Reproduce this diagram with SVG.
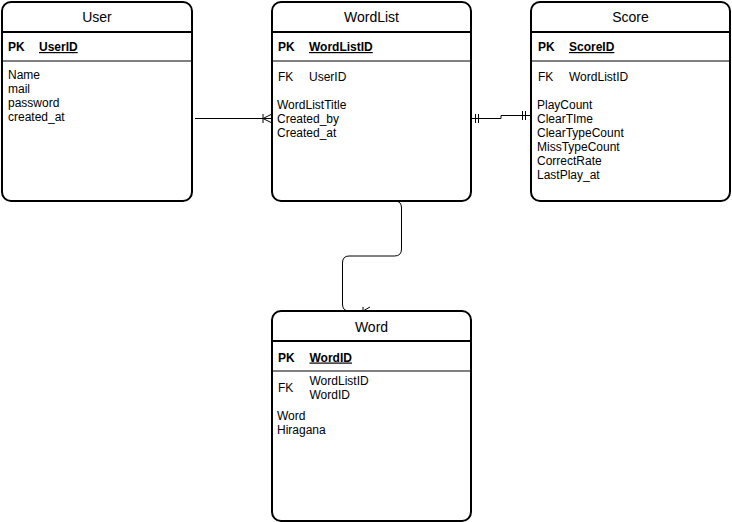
<svg xmlns="http://www.w3.org/2000/svg" width="732" height="522" viewBox="0 0 732 522">
<style>
.box{fill:#fff;stroke:#000;stroke-width:2}
.hd{stroke:#000;stroke-width:2}
.sep{stroke:#000;stroke-width:1}
text{font-family:"Liberation Sans",Arial,sans-serif;fill:#000}
.title{font-size:14px;text-anchor:middle}
.pk{font-size:12px;font-weight:bold}
.pkn{font-size:12px;font-weight:bold;text-decoration:underline}
.at{font-size:12px}
.cn{fill:none;stroke:#000;stroke-width:1}
</style>
<rect width="732" height="522" fill="#fff"/>
<g id="connectors">
  <path class="cn" d="M195 118.5 L272 118.5"/>
  <path class="cn" d="M263 114 L263 123 M263 118.5 L272 114 M263 118.5 L272 123"/>
  <path class="cn" d="M471 118.5 L501 118.5 L501 115.5 L531 115.5"/>
  <path class="cn" d="M475.5 114 L475.5 123 M478.5 114 L478.5 123"/>
  <path class="cn" d="M522.5 111 L522.5 120 M525.5 111 L525.5 120"/>
  <path class="cn" d="M395 201 Q401.5 201 401.5 208 L401.5 249 Q401.5 256 394.5 256 L349 256 Q342.5 256 342.5 263 L342.5 304 Q342.5 311 349 311 L363 311"/>
  <path class="cn" d="M363 311 L370 307 M363 307 L363 311"/>
</g>
<g id="User">
  <rect class="box" x="2" y="2" width="190" height="199" rx="9"/>
  <line class="hd" x1="2" y1="32" x2="192" y2="32"/>
  <line class="sep" x1="2" y1="61" x2="192" y2="61"/>
  <text class="title" x="97" y="22">User</text>
  <text class="pk" x="8" y="51">PK</text>
  <text class="pkn" x="39" y="51">UserID</text>
  <text class="at" x="8" y="78.5">Name</text>
  <text class="at" x="8" y="92.5">mail</text>
  <text class="at" x="8" y="106.5">password</text>
  <text class="at" x="8" y="120.5">created_at</text>
</g>
<g id="WordList">
  <rect class="box" x="272" y="2" width="199" height="199" rx="9"/>
  <line class="hd" x1="272" y1="32" x2="471" y2="32"/>
  <line class="sep" x1="272" y1="61" x2="471" y2="61"/>
  <text class="title" x="371.5" y="22">WordList</text>
  <text class="pk" x="278" y="51">PK</text>
  <text class="pkn" x="309" y="51">WordListID</text>
  <text class="at" x="278" y="81">FK</text>
  <text class="at" x="309" y="81">UserID</text>
  <text class="at" x="277" y="109">WordListTitle</text>
  <text class="at" x="277" y="123">Created_by</text>
  <text class="at" x="277" y="137">Created_at</text>
</g>
<g id="Score">
  <rect class="box" x="531" y="2" width="199" height="199" rx="9"/>
  <line class="hd" x1="531" y1="32" x2="730" y2="32"/>
  <line class="sep" x1="531" y1="61" x2="730" y2="61"/>
  <text class="title" x="630.5" y="22">Score</text>
  <text class="pk" x="538" y="51">PK</text>
  <text class="pkn" x="569" y="51">ScoreID</text>
  <text class="at" x="538" y="81">FK</text>
  <text class="at" x="569" y="81">WordListID</text>
  <text class="at" x="537" y="109">PlayCount</text>
  <text class="at" x="537" y="123">ClearTIme</text>
  <text class="at" x="537" y="137">ClearTypeCount</text>
  <text class="at" x="537" y="151">MissTypeCount</text>
  <text class="at" x="537" y="165">CorrectRate</text>
  <text class="at" x="537" y="179">LastPlay_at</text>
</g>
<g id="Word">
  <rect class="box" x="272" y="311" width="199" height="210" rx="9"/>
  <line class="hd" x1="272" y1="341" x2="471" y2="341"/>
  <line class="sep" x1="272" y1="371" x2="471" y2="371"/>
  <text class="title" x="371.5" y="332">Word</text>
  <text class="pk" x="278" y="361.5">PK</text>
  <text class="pkn" x="309.5" y="361.5">WordID</text>
  <text class="at" x="278" y="392">FK</text>
  <text class="at" x="309.5" y="384.5">WordListID</text>
  <text class="at" x="309.5" y="398.5">WordID</text>
  <text class="at" x="277" y="419.5">Word</text>
  <text class="at" x="277" y="433.5">Hiragana</text>
</g>
</svg>
